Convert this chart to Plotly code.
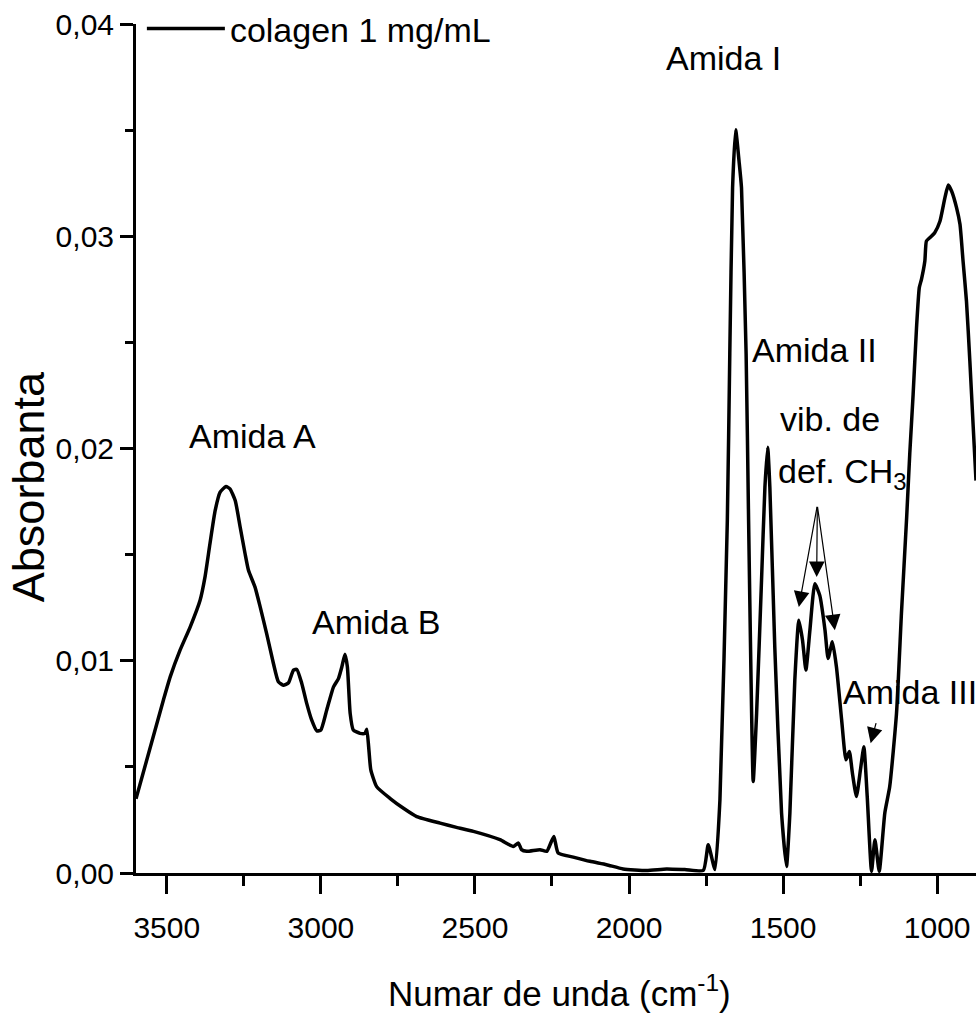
import plotly.graph_objects as go

# ---------------- data ----------------
wavenumber = [
    3600, 3511, 3489, 3457, 3424, 3392, 3376, 3360, 3343, 3327, 3308, 3295, 3278, 3262,
    3246, 3235, 3214, 3197, 3176, 3154, 3138, 3122, 3105, 3089, 3078, 3062, 3046, 3030,
    3013, 3000, 2981, 2959, 2943, 2932, 2922, 2914, 2905, 2895, 2873, 2857, 2851, 2845,
    2838, 2819, 2776, 2732, 2689, 2613, 2560, 2505, 2419, 2376, 2359, 2349, 2332, 2289,
    2267, 2244, 2230, 2181, 2127, 2073, 2019, 1943, 1878, 1819, 1759, 1743, 1721, 1705,
    1681, 1673, 1664, 1654, 1643, 1635, 1620, 1612, 1604, 1597, 1586, 1570, 1559, 1550,
    1543, 1527, 1505, 1489, 1478, 1462, 1449, 1437, 1426, 1413, 1397, 1381, 1364, 1354,
    1340, 1327, 1310, 1296, 1285, 1275, 1262, 1249, 1238, 1227, 1213, 1202, 1188, 1170,
    1154, 1132, 1116, 1099, 1089, 1078, 1067, 1058, 1051, 1040, 1035, 1024, 1008, 991,
    975, 964, 953, 937, 926, 916, 905, 894, 883, 874,
]
absorbance = [
    0.00350, 0.00815, 0.00924, 0.01050, 0.01160, 0.01285, 0.01395, 0.01551, 0.01708, 0.01794,
    0.01821, 0.01810, 0.01755, 0.01630, 0.01504, 0.01426, 0.01348, 0.01254, 0.01128, 0.00987,
    0.00901, 0.00885, 0.00896, 0.00956, 0.00959, 0.00893, 0.00799, 0.00721, 0.00669, 0.00674,
    0.00768, 0.00877, 0.00916, 0.00971, 0.01031, 0.00971, 0.00752, 0.00674, 0.00658, 0.00658,
    0.00677, 0.00595, 0.00486, 0.00407, 0.00352, 0.00305, 0.00266, 0.00235, 0.00215, 0.00196,
    0.00157, 0.00125, 0.00141, 0.00110, 0.00102, 0.00110, 0.00102, 0.00172, 0.00094, 0.00075,
    0.00055, 0.00039, 0.00019, 0.00012, 0.00019, 0.00016, 0.00012, 0.00133, 0.00016, 0.00345,
    0.01661, 0.02445, 0.03228, 0.03502, 0.03354, 0.03228, 0.02445, 0.01661, 0.00909, 0.00431,
    0.00752, 0.01379, 0.01818, 0.02006, 0.01818, 0.01065, 0.00282, 0.00031, 0.00282, 0.00909,
    0.01191, 0.01097, 0.00956, 0.01144, 0.01363, 0.01308, 0.01144, 0.01011, 0.01089, 0.00972,
    0.00721, 0.00533, 0.00572, 0.00470, 0.00360, 0.00486, 0.00595, 0.00360, 0.00008, 0.00157,
    0.00008, 0.00282, 0.00407, 0.00752, 0.01222, 0.01677, 0.01974, 0.02256, 0.02570, 0.02758,
    0.02797, 0.02883, 0.02977, 0.02993, 0.03017, 0.03071, 0.03181, 0.03241, 0.03212, 0.03134,
    0.03056, 0.02883, 0.02695, 0.02413, 0.02100, 0.01849,
]
series_name = "colagen 1 mg/mL"

x_tickvals = [3500, 3000, 2500, 2000, 1500, 1000]
x_ticktext = ["3500", "3000", "2500", "2000", "1500", "1000"]
x_minorvals = [3250, 2750, 2250, 1750, 1250]
y_tickvals = [0.00, 0.01, 0.02, 0.03, 0.04]
y_ticktext = ["0,00", "0,01", "0,02", "0,03", "0,04"]
y_minorvals = [0.005, 0.015, 0.025, 0.035]

x_title = "Numar de unda (cm<sup>-1</sup>)"
y_title = "Absorbanta"

# band labels: (text, wavenumber, absorbance)
band_labels = [
    ("Amida A", 3222, 0.02061),
    ("Amida B", 2819, 0.01181),
    ("Amida I", 1695, 0.03840),
    ("Amida II", 1397, 0.02464),
    ("vib. de", 1348, 0.02138),
    ("def. CH<sub>3</sub>", 1306, 0.01880),
    ("Amida III", 1088, 0.00852),
]
# arrows: (head wavenumber, head absorbance, tail wavenumber, tail absorbance)
band_arrows = [
    (1449, 0.01253, 1389, 0.01732),
    (1391, 0.01394, 1389, 0.01732),
    (1332, 0.01144, 1389, 0.01732),
    (1216, 0.00611, 1197, 0.00713),
]

FONT = "Liberation Sans, Arial, sans-serif"

fig = go.Figure()
fig.add_trace(go.Scatter(
    x=wavenumber, y=absorbance, mode="lines", name=series_name,
    line=dict(color="black", width=3.5, shape="spline", smoothing=0.5),
))

for text, xv, yv in band_labels:
    fig.add_annotation(x=xv, y=yv, xref="x", yref="y", text=text, showarrow=False,
                       xanchor="center", yanchor="middle",
                       font=dict(family=FONT, size=34, color="black"))

for hx, hy, tx, ty in band_arrows:
    fig.add_annotation(x=hx, y=hy, ax=tx, ay=ty, xref="x", yref="y", axref="x", ayref="y",
                       text="", showarrow=True, arrowhead=2, arrowsize=2.6,
                       arrowwidth=1.2, arrowcolor="black", standoff=0, startstandoff=0)

# axis titles placed as paper-anchored text to match the reference position
fig.add_annotation(x=0.5036, y=-0.1388, xref="paper", yref="paper", text=x_title,
                   showarrow=False, xanchor="center", yanchor="middle",
                   font=dict(family=FONT, size=35, color="black"))
fig.add_annotation(x=-0.128, y=0.455, xref="paper", yref="paper", text=y_title,
                   textangle=-90, showarrow=False, xanchor="center", yanchor="middle",
                   font=dict(family=FONT, size=45, color="black"))

axis_common = dict(
    showline=True, linewidth=3, linecolor="black", mirror=False,
    ticks="outside", tickwidth=3, tickcolor="black",
    showgrid=False, zeroline=False,
    tickfont=dict(family=FONT, size=30, color="black"),
)

fig.update_xaxes(
    **axis_common,
    range=[3600, 874], autorange=False,
    tickmode="array", tickvals=x_tickvals, ticktext=x_ticktext, ticklen=18,
    ticklabelstandoff=8,
    minor=dict(tickmode="array", tickvals=x_minorvals, ticks="outside", ticklen=10,
               tickwidth=3, tickcolor="black", showgrid=False),
)
fig.update_yaxes(
    **axis_common,
    range=[0, 0.04], autorange=False,
    tickmode="array", tickvals=y_tickvals, ticktext=y_ticktext, ticklen=13,
    minor=dict(tickmode="array", tickvals=y_minorvals, ticks="outside", ticklen=8,
               tickwidth=3, tickcolor="black", showgrid=False),
)

fig.update_layout(
    width=976, height=1020, autosize=False,
    margin=dict(l=136, r=0, t=23, b=147, pad=0),
    paper_bgcolor="white", plot_bgcolor="white",
    showlegend=True,
    legend=dict(x=0.007, y=1.028, xanchor="left", yanchor="top", itemwidth=78,
                bgcolor="rgba(0,0,0,0)", borderwidth=0,
                font=dict(family=FONT, size=34, color="black")),
)

fig.write_html("out.html")
